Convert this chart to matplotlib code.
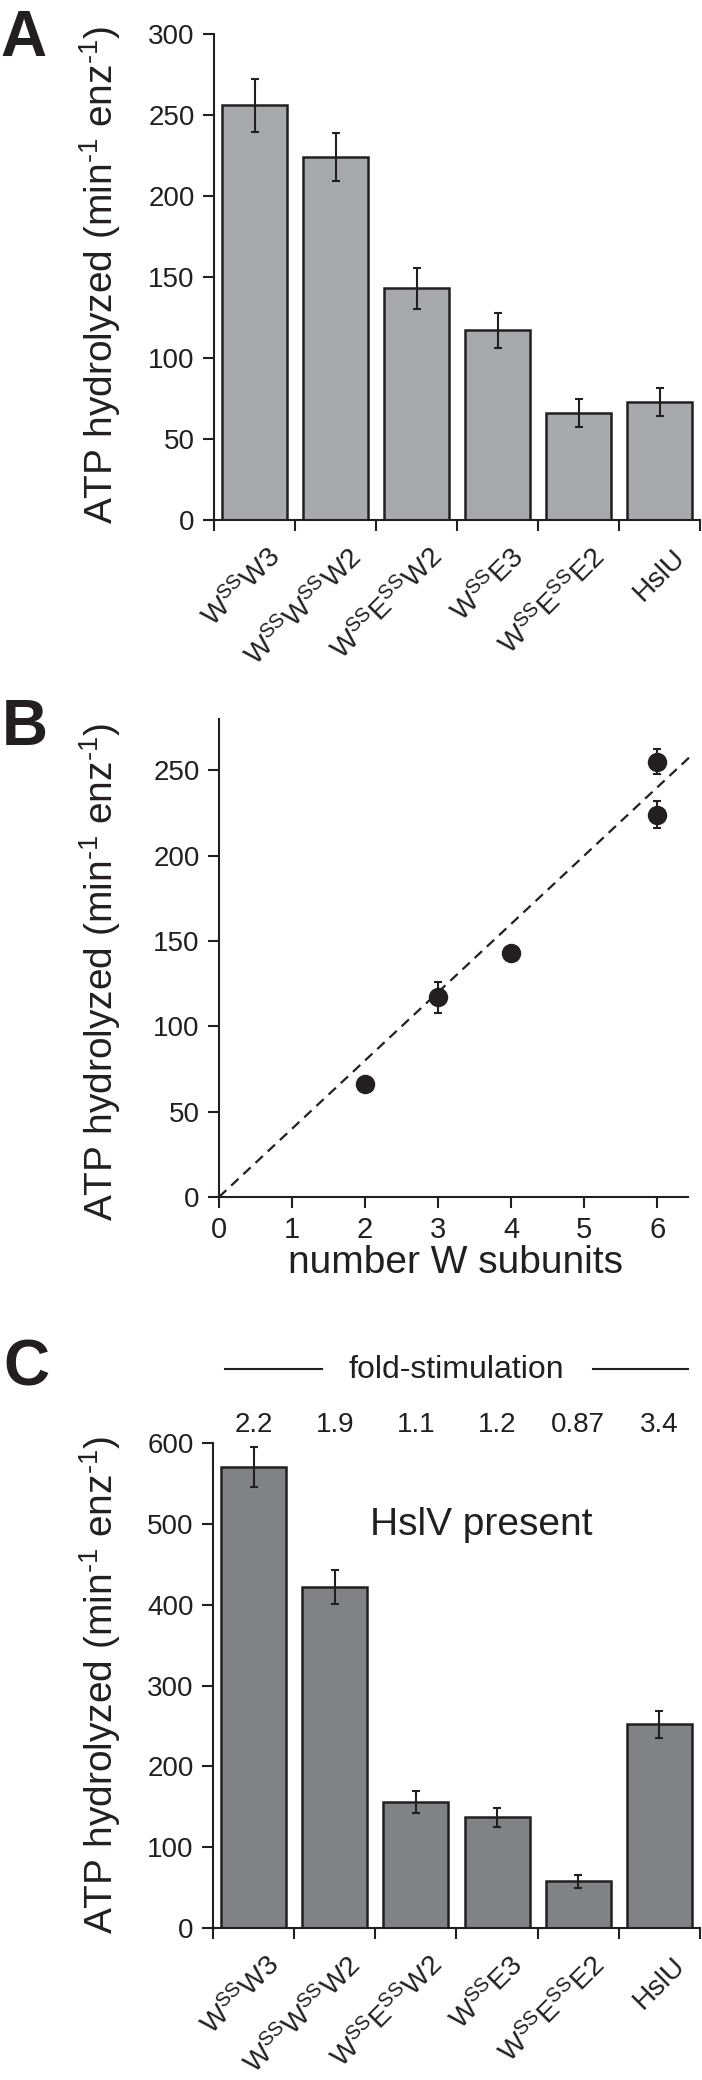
import numpy as np
import matplotlib.pyplot as plt
from matplotlib import transforms
from matplotlib.lines import Line2D

plt.rcParams['font.family'] = ['Liberation Sans', 'DejaVu Sans']
plt.rcParams['mathtext.fontset'] = 'custom'
plt.rcParams['mathtext.rm'] = 'Liberation Sans'
plt.rcParams['mathtext.it'] = 'Liberation Sans:italic'
plt.rcParams['mathtext.bf'] = 'Liberation Sans:bold'

# figure size in pixels
W, H = 702, 2080
ink = '#231f20'

# --- data ---
constructs = [r'W$^{\mathrm{SS}}$W3',
              r'W$^{\mathrm{SS}}$W$^{\mathrm{SS}}$W2',
              r'W$^{\mathrm{SS}}$E$^{\mathrm{SS}}$W2',
              r'W$^{\mathrm{SS}}$E3',
              r'W$^{\mathrm{SS}}$E$^{\mathrm{SS}}$E2',
              'HslU']

# A: HslU alone
rate_a = [256, 224, 143, 117, 66, 73]
err_a = [16.5, 15, 12.5, 11, 8.5, 8.5]

# B: rate vs number of W subunits
w_subunits = [2, 3, 4, 6, 6]
rate_b = [66, 117, 143, 255, 224]
err_b = [0, 9, 0, 7.5, 8]
fit_x = [0, 6.45]
fit_y = [0, 258]

# C: HslV present
rate_c = [570, 422, 156, 137, 58, 252]
err_c = [25, 21, 13.5, 12, 8, 17]
fold_stim = ['2.2', '1.9', '1.1', '1.2', '0.87', '3.4']

ylabel = r'ATP hydrolyzed (min$^{\text{-1}}$ enz$^{\text{-1}}$)'

fig = plt.figure(figsize=(W / 100, H / 100), dpi=100)


def px_axes(x0, y0, x1, y1):
    return fig.add_axes([x0 / W, 1 - y1 / H, (x1 - x0) / W, (y1 - y0) / H])


def style_axes(ax):
    for s in ['top', 'right']:
        ax.spines[s].set_visible(False)
    for s in ['left', 'bottom']:
        ax.spines[s].set_linewidth(1.5)
        ax.spines[s].set_color(ink)
    ax.tick_params(axis='both', direction='out', length=8, width=1.5,
                   color=ink, labelsize=20, pad=6, labelcolor=ink)


def bar_panel(ax, vals, errs, color, ymax, step):
    x = np.arange(len(vals)) + 0.5
    ax.bar(x, vals, width=0.8, color=color, edgecolor=ink, linewidth=1.8, zorder=2)
    ax.errorbar(x, vals, yerr=errs, fmt='none', ecolor=ink, elinewidth=1.5,
                capsize=3, capthick=1.5, zorder=3)
    ax.set_xlim(0, len(vals))
    ax.set_ylim(0, ymax)
    ax.set_xticks(np.arange(len(vals) + 1))
    ax.set_xticklabels([])
    ax.set_yticks(np.arange(0, ymax + 1, step))
    style_axes(ax)
    off = transforms.ScaledTranslation(0.22, -0.33, fig.dpi_scale_trans)
    for xi, lab in zip(x, constructs):
        ax.text(xi, 0, lab, transform=ax.get_xaxis_transform() + off,
                rotation=45, ha='right', va='center', rotation_mode='anchor',
                fontsize=20.5, color=ink)


# panel A
ax_a = px_axes(214, 34, 700, 520)
bar_panel(ax_a, rate_a, err_a, '#a7a9ac', 300, 50)
fig.text(100 / W, 1 - 275 / H, ylabel, rotation=90, ha='center', va='center',
         fontsize=28, color=ink)
fig.text(0, 1 - 56 / H, 'A', fontsize=46, fontweight='bold', va='baseline', color=ink)

# panel B
ax_b = px_axes(219, 719, 688, 1197)
ax_b.plot(fit_x, fit_y, ls=(0, (4.5, 3)), lw=1.6, color=ink, clip_on=False, zorder=2)
ax_b.errorbar(w_subunits, rate_b, yerr=err_b, fmt='o', ms=13, color=ink,
              ecolor=ink, elinewidth=1.5, capsize=3, capthick=1.5, zorder=3,
              clip_on=False)
ax_b.set_xlim(0, 6.42)
ax_b.set_ylim(0, 280)
ax_b.set_xticks(range(7))
ax_b.set_yticks(np.arange(0, 251, 50))
style_axes(ax_b)
ax_b.tick_params(axis='x', labelsize=21)
fig.text(100 / W, 1 - 972 / H, ylabel, rotation=90, ha='center', va='center',
         fontsize=28, color=ink)
fig.text(455 / W, 1 - 1273 / H, 'number W subunits', ha='center', va='baseline',
         fontsize=28, color=ink)
fig.text(2 / W, 1 - 745 / H, 'B', fontsize=46, fontweight='bold', va='baseline', color=ink)

# panel C
ax_c = px_axes(213, 1443, 700, 1928)
bar_panel(ax_c, rate_c, err_c, '#808285', 600, 100)
num_off = transforms.ScaledTranslation(0, 0.11, fig.dpi_scale_trans)
for xi, s in zip(np.arange(len(fold_stim)) + 0.5, fold_stim):
    ax_c.text(xi, 1, s, transform=ax_c.get_xaxis_transform() + num_off,
              ha='center', va='baseline', fontsize=20, color=ink)
ax_c.text(3.31, 486, 'HslV present', ha='center', va='baseline', fontsize=28, color=ink)
fig.text(456 / W, 1 - 1378 / H, 'fold-stimulation', ha='center', va='baseline',
         fontsize=23, color=ink)
for x0, x1 in [(225, 322), (593, 688)]:
    fig.add_artist(Line2D([x0 / W, x1 / W], [1 - 1369 / H, 1 - 1369 / H],
                          lw=1.5, color=ink))
fig.text(100 / W, 1 - 1685 / H, ylabel, rotation=90, ha='center', va='center',
         fontsize=28, color=ink)
fig.text(3 / W, 1 - 1386 / H, 'C', fontsize=46, fontweight='bold', va='baseline', color=ink)

fig.savefig('out.png', dpi=100)
